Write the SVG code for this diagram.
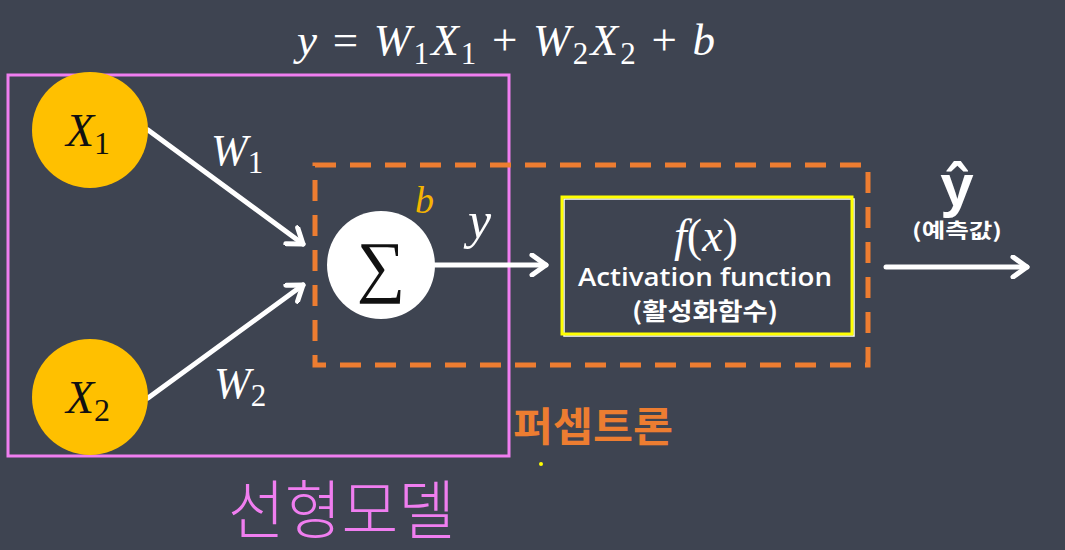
<svg xmlns="http://www.w3.org/2000/svg" width="1065" height="550" viewBox="0 0 1065 550">
<defs>
<style>
.math{font-family:"Liberation Serif","DejaVu Serif",serif;font-style:italic;}
.up{font-style:normal;}
.wire{stroke:#ffffff;stroke-width:5;fill:none;stroke-linecap:round;}
.kr{font-family:"Noto Sans CJK KR","Noto Sans",sans-serif;font-weight:700;}
.input{fill:#ffc000;}
</style>
<marker id="arr" markerUnits="userSpaceOnUse" viewBox="0 0 20 24" refX="17" refY="12" markerWidth="20" markerHeight="24" orient="auto">
<path d="M3,2 L17,12 L3,22" fill="none" stroke="#ffffff" stroke-width="5" stroke-linecap="round" stroke-linejoin="round"/>
</marker>
</defs>
<rect width="1065" height="550" fill="#3e4451"/>

<text class="math" x="297" y="55" font-size="45" fill="#ffffff" textLength="418" lengthAdjust="spacing">y <tspan class="up">=</tspan> W<tspan class="up" font-size="31" dy="9">1</tspan><tspan dy="-9">X</tspan><tspan class="up" font-size="31" dy="9">1</tspan><tspan class="up" dy="-9"> + </tspan>W<tspan class="up" font-size="31" dy="9">2</tspan><tspan dy="-9">X</tspan><tspan class="up" font-size="31" dy="9">2</tspan><tspan class="up" dy="-9"> + </tspan>b</text>

<g id="linear-model">
<rect x="8" y="75" width="501" height="381" fill="none" stroke="#f07ef0" stroke-width="3"/>
<text x="228" y="533" font-family="'Noto Sans CJK KR',sans-serif" font-weight="300" font-size="64" fill="#f07ef0" textLength="227" lengthAdjust="spacingAndGlyphs">선형모델</text>
</g>

<g id="perceptron">
<rect x="315" y="165" width="553" height="200" fill="none" stroke="#ed7d31" stroke-width="5" stroke-dasharray="21 14"/>
<text class="kr" x="513" y="441" font-size="40" fill="#ed7d31" textLength="160" lengthAdjust="spacingAndGlyphs">퍼셉트론</text>
</g>

<g id="connectors">
<line class="wire" x1="148" y1="130" x2="303" y2="244" marker-end="url(#arr)"/>
<line class="wire" x1="148" y1="398" x2="303" y2="285" marker-end="url(#arr)"/>
<line class="wire" x1="435" y1="265" x2="546" y2="265" marker-end="url(#arr)"/>
<line class="wire" x1="886" y1="267" x2="1027" y2="267" marker-end="url(#arr)"/>
<text class="math" x="211" y="165" font-size="44" fill="#ffffff">W<tspan class="up" font-size="31" dy="8">1</tspan></text>
<text class="math" x="214" y="398" font-size="44" fill="#ffffff">W<tspan class="up" font-size="31" dy="8">2</tspan></text>
<text class="math" x="468" y="238" font-size="52" fill="#ffffff">y</text>
</g>

<g id="x1">
<circle class="input" cx="90" cy="130" r="58"/>
<text class="math" x="88" y="146" font-size="46" fill="#111111" text-anchor="middle">X<tspan class="up" font-size="32" dy="8">1</tspan></text>
</g>

<g id="x2">
<circle class="input" cx="90" cy="397" r="58"/>
<text class="math" x="88" y="413" font-size="46" fill="#111111" text-anchor="middle">X<tspan class="up" font-size="32" dy="8">2</tspan></text>
</g>

<g id="sum">
<circle cx="381" cy="265" r="54" fill="#ffffff"/>
<text x="381" y="289" font-family="'Liberation Serif','DejaVu Serif',serif" font-size="68" fill="#111111" text-anchor="middle">∑</text>
<text class="math" x="415" y="213" font-size="38" fill="#f5b400">b</text>
</g>

<g id="activation">
<rect x="564" y="199" width="290" height="137" fill="none" stroke="#ffffff" stroke-width="1.5"/>
<rect x="562" y="197" width="290" height="137" fill="none" stroke="#ffff00" stroke-width="3"/>
<text class="math" x="706" y="251" font-size="46" fill="#ffffff" text-anchor="middle">f<tspan class="up">(</tspan>x<tspan class="up">)</tspan></text>
<text x="705" y="286" font-family="'Open Sans','Noto Sans',sans-serif" font-weight="600" font-size="25" fill="#ffffff" text-anchor="middle" textLength="254" lengthAdjust="spacingAndGlyphs">Activation function</text>
<text class="kr" x="705" y="320" font-size="24" fill="#ffffff" text-anchor="middle" textLength="146" lengthAdjust="spacingAndGlyphs">(활성화함수)</text>
</g>

<g id="output">
<text x="957" y="206" font-family="'Liberation Sans','Noto Sans',sans-serif" font-weight="700" font-size="60" fill="#ffffff" text-anchor="middle">ŷ</text>
<text class="kr" x="957" y="238" font-size="20" fill="#ffffff" text-anchor="middle" textLength="90" lengthAdjust="spacingAndGlyphs">(예측값)</text>
</g>

<circle cx="541" cy="464" r="2" fill="#ffff00"/>
</svg>
